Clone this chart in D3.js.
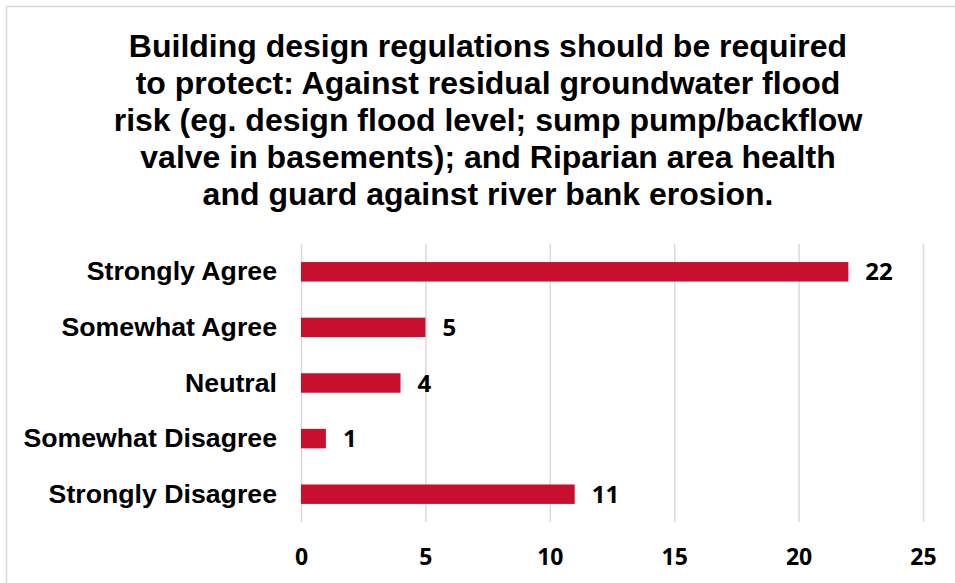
<!DOCTYPE html>
<html>
<head>
<meta charset="utf-8">
<script src="https://cdn.jsdelivr.net/npm/d3@7"></script>
<style>
  html, body { margin: 0; padding: 0; background: #fff; }
  svg { display: block; }
</style>
</head>
<body>
<svg id="chart" width="955" height="583"></svg>
<script>
// Survey responses
const categories = ["Strongly Agree", "Somewhat Agree", "Neutral", "Somewhat Disagree", "Strongly Disagree"];
const counts = [22, 5, 4, 1, 11];
const tickValues = [0, 5, 10, 15, 20, 25];
const titleLines = [
  "Building design regulations should be required",
  "to protect: Against residual groundwater flood",
  "risk (eg. design flood level; sump pump/backflow",
  "valve in basements); and Riparian area health",
  "and guard against river bank erosion."
];

const svg = d3.select("#chart");
const W = 955, H = 583;
const plot = { left: 301, right: 923, top: 244, bottom: 522 };
const barColor = "#c8102e";
const gridColor = "#d9d9d9";

svg.append("rect").attr("width", W).attr("height", H).attr("fill", "#fff");

// Chart frame
svg.append("rect")
  .attr("x", 6.5).attr("y", 6.5)
  .attr("width", W + 20).attr("height", H + 20)
  .attr("fill", "none").attr("stroke", gridColor).attr("stroke-width", 1.5);

// Title
svg.append("text")
  .attr("text-anchor", "middle")
  .attr("font-family", "Liberation Sans, Arial, sans-serif")
  .attr("font-weight", "bold")
  .attr("font-size", 32)
  .attr("fill", "#000")
  .selectAll("tspan")
  .data(titleLines)
  .join("tspan")
  .attr("x", 488)
  .attr("y", (d, i) => 57 + i * 37)
  .text(d => d);

const x = d3.scaleLinear().domain([0, 25]).range([plot.left, plot.right]);
const y = d3.scaleBand().domain(categories).range([plot.top, plot.bottom])
  .paddingInner(0.65).paddingOuter(0.325);

// Vertical gridlines
const xAxis = d3.axisBottom(x).tickValues(tickValues).tickSize(-(plot.bottom - plot.top)).tickPadding(27);
const gx = svg.append("g")
  .attr("transform", `translate(0,${plot.bottom})`)
  .call(xAxis);
gx.select(".domain").remove();
gx.selectAll(".tick line").attr("stroke", gridColor).attr("stroke-width", 1.5);
gx.selectAll(".tick text")
  .attr("font-family", "Open Sans, sans-serif")
  .attr("font-weight", "bold")
  .attr("font-size", 23)
  .attr("fill", "#000");

// Category labels
const yAxis = d3.axisLeft(y).tickSize(0).tickPadding(24);
const gy = svg.append("g")
  .attr("transform", `translate(${plot.left},0)`)
  .call(yAxis);
gy.select(".domain").remove();
gy.selectAll(".tick text")
  .attr("font-family", "Liberation Sans, Arial, sans-serif")
  .attr("font-weight", "bold")
  .attr("font-size", 26.7)
  .attr("fill", "#000");

const data = categories.map((c, i) => ({ c, v: counts[i] }));

// Bars
svg.append("g").selectAll("rect")
  .data(data)
  .join("rect")
  .attr("x", x(0))
  .attr("y", d => y(d.c))
  .attr("width", d => x(d.v) - x(0))
  .attr("height", y.bandwidth())
  .attr("fill", barColor);

// Value labels
svg.append("g").selectAll("text")
  .data(data)
  .join("text")
  .attr("x", d => x(d.v) + 17)
  .attr("y", d => y(d.c) + y.bandwidth() / 2)
  .attr("dy", "0.36em")
  .attr("font-family", "Open Sans, sans-serif")
  .attr("font-weight", "bold")
  .attr("font-size", 24)
  .attr("fill", "#000")
  .text(d => d.v);
</script>
</body>
</html>
